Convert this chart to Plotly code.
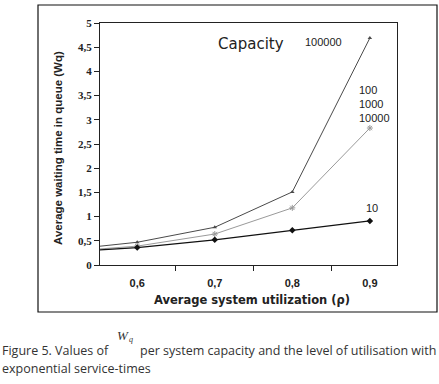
import plotly.graph_objects as go

# ---- data ----
utilization = [0.5, 0.6, 0.7, 0.8, 0.9]
wq_cap_100000 = [0.30, 0.47, 0.78, 1.51, 4.69]
wq_cap_100_10000 = [0.27, 0.39, 0.64, 1.18, 2.83]
wq_cap_10 = [0.26, 0.36, 0.52, 0.72, 0.91]
x_tick_vals = [0.6, 0.7, 0.8, 0.9]
x_tick_text = ["0,6", "0,7", "0,8", "0,9"]

W, H = 439, 384
L, R, T, B = 100, 397, 23, 265  # plot area in pixels


def px(x):
    return (x - L) / (R - L)


def py(y):
    return (B - y) / (B - T)


fig = go.Figure()
fig.add_trace(go.Scatter(x=utilization, y=wq_cap_100000, mode="lines+markers",
                         line=dict(color="#4a4a4a", width=1),
                         marker=dict(symbol="triangle-up", size=4, color="#4a4a4a"),
                         name="100000"))
fig.add_trace(go.Scatter(x=utilization, y=wq_cap_100_10000, mode="lines+markers",
                         line=dict(color="#9a9a9a", width=1),
                         marker=dict(symbol="asterisk", size=5, color="#9a9a9a",
                                     line=dict(color="#9a9a9a", width=1)),
                         name="100/1000/10000"))
fig.add_trace(go.Scatter(x=utilization, y=wq_cap_10, mode="lines+markers",
                         line=dict(color="#111111", width=1.2),
                         marker=dict(symbol="diamond", size=5, color="#111111"),
                         name="10"))

fig.update_layout(
    width=W, height=H,
    margin=dict(l=L, r=W - R, t=T, b=H - B, pad=0),
    paper_bgcolor="white", plot_bgcolor="white",
    showlegend=False,
    separators=", ",
    xaxis=dict(range=[0.552, 0.935], tickvals=x_tick_vals, ticktext=x_tick_text,
               ticks="outside", ticklen=5, tickcolor="rgba(0,0,0,0)",
               minor=dict(tick0=0.65, dtick=0.1, ticks="outside", ticklen=5,
                          tickcolor="#222222", showgrid=False),
               showline=True, linecolor="#222222", linewidth=1, mirror=True,
               showgrid=False, zeroline=False,
               tickfont=dict(family="Liberation Sans", size=11, color="#222222",
                             weight="bold"),
               ticklabelstandoff=3),
    yaxis=dict(range=[0, 5], dtick=0.5, tick0=0, ticks="outside", ticklen=5,
               tickcolor="#222222",
               showline=True, linecolor="#222222", linewidth=1, mirror=True,
               showgrid=False, zeroline=False,
               tickfont=dict(family="Liberation Serif", size=11, color="#222222",
                             weight="bold")),
)

# outer frame
fig.add_shape(type="rect", xref="paper", yref="paper",
              x0=px(38), x1=px(437), y0=py(312), y1=py(5),
              line=dict(color="#111111", width=1.2))


def ann(text, x, y, size, family="Liberation Sans", xanchor="center",
        textangle=0, color="#222222", italic=False):
    fig.add_annotation(text=text, xref="paper", yref="paper", x=px(x), y=py(y),
                       xanchor=xanchor, yanchor="middle", showarrow=False,
                       textangle=textangle, borderpad=0,
                       font=dict(family=family, size=size, color=color,
                                 style="italic" if italic else "normal"))


ann("<b>Average waiting time in queue (Wq)</b>", 58, 148, 11.5, textangle=-90)
ann("<b>Average system utilization (ρ)</b>", 252, 300, 11.5, family="DejaVu Sans")
ann("Capacity", 251, 44, 15, family="DejaVu Sans")
ann("100000", 323, 42, 11)
ann("100", 358, 90, 11, xanchor="left")
ann("1000", 358, 104, 11, xanchor="left")
ann("10000", 358, 118, 11, xanchor="left")
ann("10", 372, 208, 11)

# caption
cap_font = "Open Sans"
ann("Figure 5. Values of", 1, 350, 12.5, family=cap_font, xanchor="left", color="#333333")
ann("W", 116, 335, 13, family="Liberation Serif", xanchor="left", italic=True, color="#333333")
ann("q", 128, 339, 8, family="Liberation Serif", xanchor="left", italic=True, color="#333333")
ann("per system capacity and the level of utilisation with", 139, 350, 12.5,
    family=cap_font, xanchor="left", color="#333333")
ann("exponential service-times", 1, 368, 12.5, family=cap_font, xanchor="left", color="#333333")

fig.write_html("out.html", config={"displayModeBar": False},
               post_script="document.body.style.margin='0';")
